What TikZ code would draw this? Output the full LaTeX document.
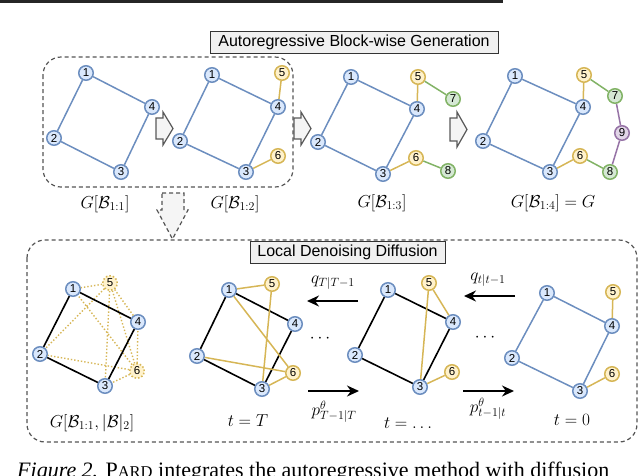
\documentclass[tikz,border=0pt]{standalone}
\usepackage{fontspec}
\setsansfont{Liberation Sans}
\newfontfamily\capfont{Liberation Serif}
\usetikzlibrary{arrows.meta}
\definecolor{bfill}{HTML}{DAE8FC}
\definecolor{bline}{HTML}{6C8EBF}
\definecolor{yfill}{HTML}{FFF2CC}
\definecolor{yline}{HTML}{D6B656}
\definecolor{gfill}{HTML}{D5E8D4}
\definecolor{gline}{HTML}{82B366}
\definecolor{pfill}{HTML}{E1D5E7}
\definecolor{pline}{HTML}{9673A6}
\definecolor{boxline}{HTML}{555555}
\begin{document}
\begin{tikzpicture}[x=1pt,y=-1pt,
  vtx/.style={circle,minimum size=14.5pt,inner sep=0pt,line width=1.5pt,font=\sffamily\fontsize{11.5}{11.5}\selectfont},
  bv/.style={vtx,draw=bline,fill=bfill},
  yv/.style={vtx,draw=yline,fill=yfill},
  ydv/.style={vtx,draw=yline,fill=yfill,dotted},
  gv/.style={vtx,draw=gline,fill=gfill},
  pv/.style={vtx,draw=pline,fill=pfill},
  be/.style={draw=bline,line width=1.5pt},
  ye/.style={draw=yline,line width=1.5pt},
  yde/.style={draw=yline,line width=1.4pt,dotted},
  ge/.style={draw=gline,line width=1.5pt},
  pe/.style={draw=pline,line width=1.5pt},
  ke/.style={draw=black,line width=1.6pt},
  mlab/.style={font=\fontsize{16.5}{19}\selectfont,inner sep=0pt},
  dbox/.style={draw=boxline,dash pattern=on 4pt off 3pt,line width=1.2pt,rounded corners=18pt},
  tbox/.style={draw=black!80,fill=gray!12,line width=1pt,inner sep=0pt,font=\sffamily\fontsize{16}{16}\selectfont},
  blockarrow/.style={draw=black!65,fill=gray!8,line width=1.2pt,line join=miter},
  bigarrow/.style={draw=black,line width=1.6pt,-{Stealth[length=12pt,width=11pt]}},
]
\useasboundingbox (0,0) rectangle (640,475);
% top rule
\fill[black!85] (0,0) rectangle (503,3);

% ----- top dashed box and title
\draw[dbox] (43,57) rectangle (293,187);
\node[tbox,minimum width=288pt,minimum height=22pt] (t1) at (354,42) {Autoregressive Block-wise Generation};

% block arrows
\draw[blockarrow] (156,118) -- (163,118) -- (163,112) -- (173,128.5) -- (163,145) -- (163,139) -- (156,139) -- cycle;
\draw[blockarrow] (294,118) -- (301,118) -- (301,112) -- (311,128.5) -- (301,145) -- (301,139) -- (294,139) -- cycle;
\draw[blockarrow] (450,118) -- (457,118) -- (457,112) -- (467,129.5) -- (457,147) -- (457,141) -- (450,141) -- cycle;

% graph 1
\node[bv] (a1) at (86,73) {1};
\node[bv] (a4) at (152,107) {4};
\node[bv] (a2) at (54,138) {2};
\node[bv] (a3) at (121,172) {3};
\draw[be] (a1) -- (a4) (a4) -- (a3) (a3) -- (a2) (a2) -- (a1);
\node[mlab] (l1) at (105,204) {$G[\mathcal{B}_{1:1}]$};

% graph 2
\node[bv] (b1) at (212,75) {1};
\node[yv] (b5) at (282,73) {5};
\node[bv] (b4) at (278,107) {4};
\node[bv] (b2) at (180,141) {2};
\node[yv] (b6) at (278,156) {6};
\node[bv] (b3) at (246,172) {3};
\draw[be] (b1) -- (b4) (b4) -- (b3) (b3) -- (b2) (b2) -- (b1);
\draw[ye] (b4) -- (b5) (b3) -- (b6);
\node[mlab] (l2) at (235,204) {$G[\mathcal{B}_{1:2}]$};

% graph 3
\node[bv] (c1) at (351,77) {1};
\node[yv] (c5) at (418,77) {5};
\node[gv] (c7) at (453,99) {7};
\node[bv] (c4) at (417,109) {4};
\node[bv] (c2) at (318,142) {2};
\node[yv] (c6) at (416,158) {6};
\node[gv] (c8) at (448,171) {8};
\node[bv] (c3) at (383,174) {3};
\draw[be] (c1) -- (c4) (c4) -- (c3) (c3) -- (c2) (c2) -- (c1);
\draw[ye] (c4) -- (c5) (c3) -- (c6);
\draw[ge] (c5) -- (c7) (c6) -- (c8);
\node[mlab] (l3) at (382,203) {$G[\mathcal{B}_{1:3}]$};

% graph 4
\node[bv] (d1) at (515,76) {1};
\node[yv] (d5) at (584,75) {5};
\node[gv] (d7) at (615,96) {7};
\node[bv] (d4) at (583,107) {4};
\node[pv] (d9) at (622,133) {9};
\node[bv] (d2) at (483,141) {2};
\node[yv] (d6) at (580,156) {6};
\node[gv] (d8) at (610,172) {8};
\node[bv] (d3) at (550,172) {3};
\draw[be] (d1) -- (d4) (d4) -- (d3) (d3) -- (d2) (d2) -- (d1);
\draw[ye] (d4) -- (d5) (d3) -- (d6);
\draw[ge] (d5) -- (d7) (d6) -- (d8);
\draw[pe] (d7) -- (d9) (d9) -- (d8);
\node[mlab] (l4) at (553,203) {$G[\mathcal{B}_{1:4}]=G$};

% down dashed arrow
\draw[draw=boxline,fill=gray!8,dash pattern=on 4pt off 3pt,line width=1.2pt,line join=miter]
  (162,193) -- (184,193) -- (184,210) -- (188,210) -- (172.5,239) -- (157,210) -- (162,210) -- cycle;

% ----- bottom dashed box and title
\draw[dbox] (27,240) rectangle (637,442);
\node[tbox,minimum width=195pt,minimum height=22pt] (t2) at (347.5,252) {Local Denoising Diffusion};

% graph A
\node[bv] (e1) at (73,289) {1};
\node[ydv] (e5) at (110,283) {5};
\node[bv] (e4) at (138,322) {4};
\node[bv] (e2) at (40,354) {2};
\node[ydv] (e6) at (137,371) {6};
\node[bv] (e3) at (105,386) {3};
\draw[yde] (e5) -- (e1) (e5) -- (e2) (e5) -- (e4) (e5) -- (e3) (e5) -- (e6)
           (e6) -- (e1) (e6) -- (e2) (e6) -- (e3) (e6) -- (e4);
\draw[ke] (e1) -- (e4) (e4) -- (e3) (e3) -- (e2) (e2) -- (e1);
\node[mlab] (la) at (92,423) {$G\big[\mathcal{B}_{1:1},|\mathcal{B}|_2\big]$};

% graph B
\node[bv] (f1) at (229,290) {1};
\node[yv] (f5) at (272,284) {5};
\node[bv] (f4) at (295,324) {4};
\node[bv] (f2) at (197,356) {2};
\node[yv] (f6) at (293,373) {6};
\node[bv] (f3) at (262,389) {3};
\draw[ke] (f1) -- (f4) (f4) -- (f3) (f3) -- (f2) (f2) -- (f1);
\draw[ye] (f1) -- (f5) (f1) -- (f6) (f5) -- (f3) (f2) -- (f6) (f3) -- (f6);
\node[mlab] (lb) at (248,421) {$t=T$};

% arrows B <-> C
\coordinate (q1s) at (358,301);
\coordinate (q1e) at (307,301);
\draw[bigarrow] (q1s) -- (q1e);
\node[mlab] (q1) at (333,283) {$q_{T|T-1}$};
\node[mlab] (dots1) at (320,339) {$\cdots$};
\coordinate (p1s) at (308,391);
\coordinate (p1e) at (359,391);
\draw[bigarrow] (p1s) -- (p1e);
\node[mlab] (p1) at (334,412) {$p^{\theta}_{T-1|T}$};

% graph C
\node[bv] (g1) at (388,290) {1};
\node[yv] (g5) at (429,283) {5};
\node[bv] (g4) at (453,322) {4};
\node[bv] (g2) at (355,355) {2};
\node[yv] (g6) at (452,372) {6};
\node[bv] (g3) at (420,387) {3};
\draw[ke] (g1) -- (g4) (g4) -- (g3) (g3) -- (g2) (g2) -- (g1);
\draw[ye] (g5) -- (g3) (g5) -- (g4) (g3) -- (g6);
\node[mlab] (lc) at (408,423) {$t=\ldots$};

% arrows C <-> D
\coordinate (q2s) at (515,296);
\coordinate (q2e) at (464,296);
\draw[bigarrow] (q2s) -- (q2e);
\node[mlab] (q2) at (488,280) {$q_{t|t-1}$};
\node[mlab] (dots2) at (485,338) {$\cdots$};
\coordinate (p2s) at (463,391);
\coordinate (p2e) at (514,391);
\draw[bigarrow] (p2s) -- (p2e);
\node[mlab] (p2) at (488,409) {$p^{\theta}_{t-1|t}$};

% graph D
\node[bv] (h1) at (547,293) {1};
\node[yv] (h5) at (613,292) {5};
\node[bv] (h4) at (612,326) {4};
\node[bv] (h2) at (512,358) {2};
\node[yv] (h6) at (612,374) {6};
\node[bv] (h3) at (580,391) {3};
\draw[be] (h1) -- (h4) (h4) -- (h3) (h3) -- (h2) (h2) -- (h1);
\draw[ye] (h4) -- (h5) (h3) -- (h6);
\node[mlab] (ld) at (572,420) {$t=0$};

% caption (cut off at the bottom edge, as in the reference)
\node[anchor=base west,inner sep=0pt,font=\capfont\fontsize{22}{24}\selectfont] (cap) at (17,477)
  {\textit{Figure 2.} P{\fontsize{16.5}{18}\selectfont ARD} integrates the autoregressive method with diffusion};
\end{tikzpicture}
\end{document}
